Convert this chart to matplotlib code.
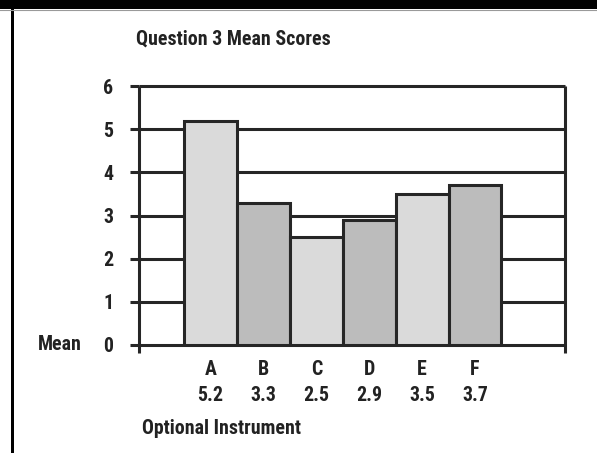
import matplotlib
matplotlib.use("Agg")
import matplotlib.pyplot as plt
from matplotlib.patches import Rectangle
from matplotlib.lines import Line2D

categories = ["A", "B", "C", "D", "E", "F"]
means = [5.2, 3.3, 2.5, 2.9, 3.5, 3.7]
y_ticks = [0, 1, 2, 3, 4, 5, 6]
fills = ["#dadada", "#bcbcbc"]

W, H = 597, 453
DPI = 100
plt.rcParams["font.family"] = ["Roboto Condensed", "DejaVu Sans"]
plt.rcParams["font.weight"] = "bold"

ink = "#262626"
txt = "#222222"
lw = 2.2
fs = 14.3

fig = plt.figure(figsize=(W / DPI, H / DPI), dpi=DPI)
fig.patch.set_facecolor("white")

# frame: black band on top, thin rule on the left
fig.add_artist(Rectangle((0, 1 - 9 / H), 1, 9 / H, transform=fig.transFigure,
                         facecolor="black", edgecolor="none"))
fig.add_artist(Line2D([0, 1], [1 - 10 / H] * 2, transform=fig.transFigure,
                      color="#9a9a9a", lw=0.8))
fig.add_artist(Rectangle((11 / W, 0), 3 / W, 1, transform=fig.transFigure,
                         facecolor="black", edgecolor="none"))

left, right, top, bottom = 139, 565, 86, 345
ax = fig.add_axes([left / W, (H - bottom) / H, (right - left) / W, (bottom - top) / H])
x0, x1 = -1.35, 6.7
ax.set_xlim(x0, x1)
ax.set_ylim(0, 6)

for s in ax.spines.values():
    s.set_visible(False)

# horizontal rules at each y tick
for y in y_ticks:
    ax.plot([x0, x1], [y, y], color=ink, lw=lw, zorder=1, solid_capstyle="butt",
            clip_on=False)
# side rules, extending slightly below zero
for x in (x0, x1):
    ax.plot([x, x], [-0.18, 6], color=ink, lw=lw, zorder=1, solid_capstyle="butt",
            clip_on=False)

xs = list(range(len(categories)))
ax.bar(xs, means, width=1.0, color=[fills[i % 2] for i in xs],
       edgecolor=ink, linewidth=lw, zorder=2)

ax.set_yticks(y_ticks)
ax.set_yticklabels([str(v) for v in y_ticks], fontsize=fs, fontweight="bold", color=txt)
ax.tick_params(axis="y", length=6.5, width=lw, color=ink, direction="out", pad=12)

ax.set_xticks(xs)
ax.set_xticklabels([f"{c}\n{m}" for c, m in zip(categories, means)],
                   fontsize=fs, fontweight="bold", linespacing=1.42, color=txt)
ax.tick_params(axis="x", length=0, pad=11)

fig.text(82 / W, 1 - 345 / H, "Mean", ha="right", va="center",
         fontsize=fs, fontweight="bold", color=txt)
fig.text(142 / W, 1 - 428 / H, "Optional Instrument", ha="left", va="center",
         fontsize=fs, fontweight="bold", color=txt)
fig.text(136 / W, 1 - 39 / H, "Question 3 Mean Scores", ha="left", va="center",
         fontsize=fs, fontweight="bold", color=txt)

fig.savefig("out.png", dpi=DPI)
